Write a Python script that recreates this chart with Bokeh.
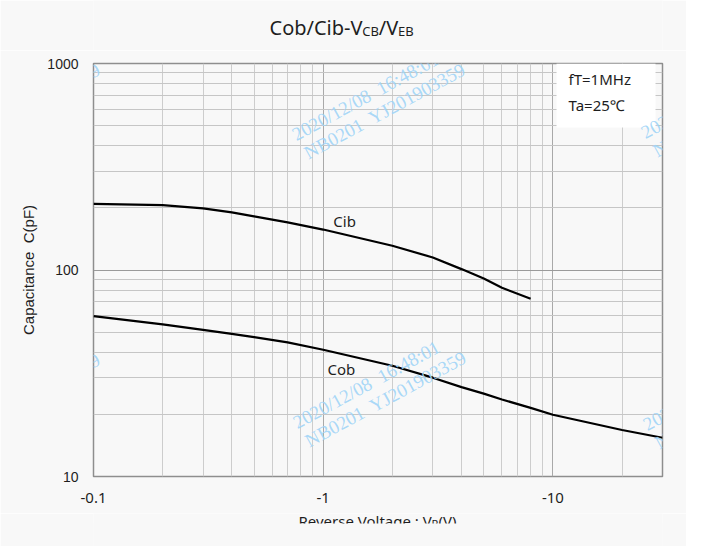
import math
from bokeh.plotting import figure
from bokeh.layouts import column
from bokeh.models import FixedTicker, Label, BoxAnnotation
from bokeh.embed import file_html
from bokeh.resources import INLINE

# ---------------- data ----------------
cib_vr = [0.1, 0.2, 0.3, 0.4, 0.5, 0.7, 1, 2, 3, 4, 5, 6, 8]
cib_pf = [209, 206, 199, 190, 182, 170, 157, 131, 115, 101, 91, 82, 72.5]

cob_vr = [0.1, 0.2, 0.3, 0.4, 0.5, 0.7, 1, 2, 3, 4, 5, 6, 8, 10, 20, 30]
cob_pf = [59.8, 54.5, 51.3, 49.1, 47.3, 44.6, 41.1, 34.4, 30.1, 27.1, 25.2, 23.6, 21.5, 19.9, 16.8, 15.4]

x_ticks = [0.1, 1, 10]
x_tick_labels = ["-0.1", "-1", "-10"]
x_minor = [0.2, 0.3, 0.4, 0.5, 0.6, 0.7, 0.8, 0.9, 2, 3, 4, 5, 6, 7, 8, 9, 20, 30]
y_ticks = [10, 100, 1000]
y_tick_labels = ["10", "100", "1000"]
y_minor = [20, 30, 40, 50, 60, 70, 80, 90, 200, 300, 400, 500, 600, 700, 800, 900]

conditions = ["fT=1MHz", "Ta=25\u2103"]
watermark_lines = ["2020/12/08\u00a0 16:48:01", "NB0201\u00a0 YJ201903359"]

# ---------------- layout ----------------
W = 686
TOP_H, MAIN_H, BOT_H = 50, 463, 33
BG = "#f8f8f8"
TXT = "#1e1e1e"
BASE_FIX = -7  # alphabetic-baseline correction observed in rendering


def strip(h):
    f = figure(width=W, height=h, x_range=(0, W), y_range=(h, 0),
               output_backend="svg", toolbar_location=None, min_border=0,
               x_axis_location=None, y_axis_location=None,
               background_fill_color=BG, border_fill_color=BG, outline_line_color=None)
    f.grid.visible = False
    return f


# ---- title strip ----
top = strip(TOP_H)
title_parts = [("Cob/Cib-V", 20, 0), ("CB", 13, 4), ("/V", 20, 0), ("EB", 13, 4)]
title_widths = [92.7, 16.6, 19.3, 15.6]
x0 = 269
for (t, fs, dy), w in zip(title_parts, title_widths):
    top.add_layout(Label(x=x0, y=33.5 + dy + BASE_FIX, x_units="canvas", y_units="canvas",
                         text=t, text_font="Noto Sans", text_font_size=f"{fs}px", text_color=TXT,
                         text_align="left", text_baseline="alphabetic"))
    x0 += w

# ---- main chart ----
p = figure(width=W, height=MAIN_H, x_axis_type="log", y_axis_type="log",
           x_range=(0.1, 30), y_range=(10, 1000),
           output_backend="svg", toolbar_location=None,
           min_border_left=93, min_border_right=24, min_border_top=63 - TOP_H,
           min_border_bottom=TOP_H + MAIN_H - 476,
           background_fill_color=BG, border_fill_color=BG)
p.outline_line_color = "#8e8e8e"
p.outline_line_width = 1.5

p.xaxis.ticker = FixedTicker(ticks=x_ticks, minor_ticks=x_minor)
p.xaxis.major_label_overrides = dict(zip(x_ticks, x_tick_labels))
p.yaxis.ticker = FixedTicker(ticks=y_ticks, minor_ticks=y_minor)
p.yaxis.major_label_overrides = dict(zip(y_ticks, y_tick_labels))
for ax in (p.xaxis[0], p.yaxis[0]):
    ax.axis_line_color = None
    ax.major_tick_line_color = None
    ax.minor_tick_line_color = None
    ax.major_tick_out = 0
    ax.major_tick_in = 0
    ax.minor_tick_out = 0
    ax.minor_tick_in = 0
    ax.major_label_text_color = TXT
p.xaxis.major_label_text_font = "Noto Sans"
p.xaxis.major_label_text_font_size = "15px"
p.xaxis.major_label_standoff = 16
p.yaxis.major_label_text_font = "Liberation Sans"
p.yaxis.major_label_text_font_size = "14px"
p.yaxis.major_label_standoff = 15
p.yaxis.axis_label = "Capacitance\u00a0 C(pF)"
p.yaxis.axis_label_text_font = "Liberation Sans"
p.yaxis.axis_label_text_font_size = "15px"
p.yaxis.axis_label_text_font_style = "normal"
p.yaxis.axis_label_text_color = TXT
p.yaxis.axis_label_standoff = 7

p.xgrid.grid_line_color = "#a9a9a9"
p.xgrid.minor_grid_line_color = "#cdcdcd"
p.ygrid.grid_line_color = "#9a9a9a"
p.ygrid.minor_grid_line_color = "#c6c6c6"
for g in (p.xgrid[0], p.ygrid[0]):
    g.grid_line_width = 1
    g.minor_grid_line_width = 1

p.line(cib_vr, cib_pf, line_color="black", line_width=2.2)
p.line(cob_vr, cob_pf, line_color="black", line_width=2.2)

p.add_layout(Label(x=1.24, y=172, text="Cib", text_font="Noto Sans", text_font_size="15px",
                   text_color=TXT, text_align="center", text_baseline="middle"))
p.add_layout(Label(x=1.20, y=33, text="Cob", text_font="Noto Sans", text_font_size="15px",
                   text_color=TXT, text_align="center", text_baseline="middle"))

p.add_layout(BoxAnnotation(left=10.37, right=27.97, bottom=490, top=1000,
                           fill_color="white", fill_alpha=1, line_color=None))
for i, t in enumerate(conditions):
    p.add_layout(Label(x=568, y=85 + 26 * i - TOP_H + BASE_FIX, x_units="canvas", y_units="canvas",
                       text=t, text_font="Noto Sans", text_font_size="15px", text_color=TXT,
                       text_align="left", text_baseline="alphabetic"))

# watermarks (page-pixel anchors, shifted into this canvas)
ang = 28.5
wm_starts = [(-72, 142), (293, 142), (642, 140), (-72, 432), (294, 430), (644, 432)]
for (sx, sy) in wm_starts:
    for j, t in enumerate(watermark_lines):
        ox = 21 * j * math.sin(math.radians(ang)) + 2 * j
        oy = 21 * j * math.cos(math.radians(ang))
        p.add_layout(Label(x=sx + ox, y=sy + oy - TOP_H + BASE_FIX, x_units="canvas", y_units="canvas",
                           text=t, text_font="Liberation Serif", text_font_size="19px",
                           text_color="#9fd4f7", text_alpha=0.9, angle=ang, angle_units="deg",
                           text_align="left", text_baseline="alphabetic"))

# ---- bottom strip: x-axis title, cut off as in the reference ----
bot = strip(BOT_H)
y_base = 527 - (TOP_H + MAIN_H) + BASE_FIX
xl_parts = [("Reverse Voltage : V", 15, 0), ("R", 11, 3), ("(V)", 15, 0)]
xl_widths = [133, 7, 19]
x0 = 298
for (t, fs, dy), w in zip(xl_parts, xl_widths):
    bot.add_layout(Label(x=x0, y=y_base + dy, x_units="canvas", y_units="canvas",
                         text=t, text_font="Noto Sans", text_font_size=f"{fs}px", text_color=TXT,
                         text_align="left", text_baseline="alphabetic"))
    x0 += w
cut = 523 - (TOP_H + MAIN_H)
bot.add_layout(BoxAnnotation(left=0, right=W, top=cut, bottom=BOT_H, fill_color=BG,
                             fill_alpha=1, line_color=None))

layout = column(top, p, bot)
open("out.html", "w").write(file_html(layout, INLINE))
